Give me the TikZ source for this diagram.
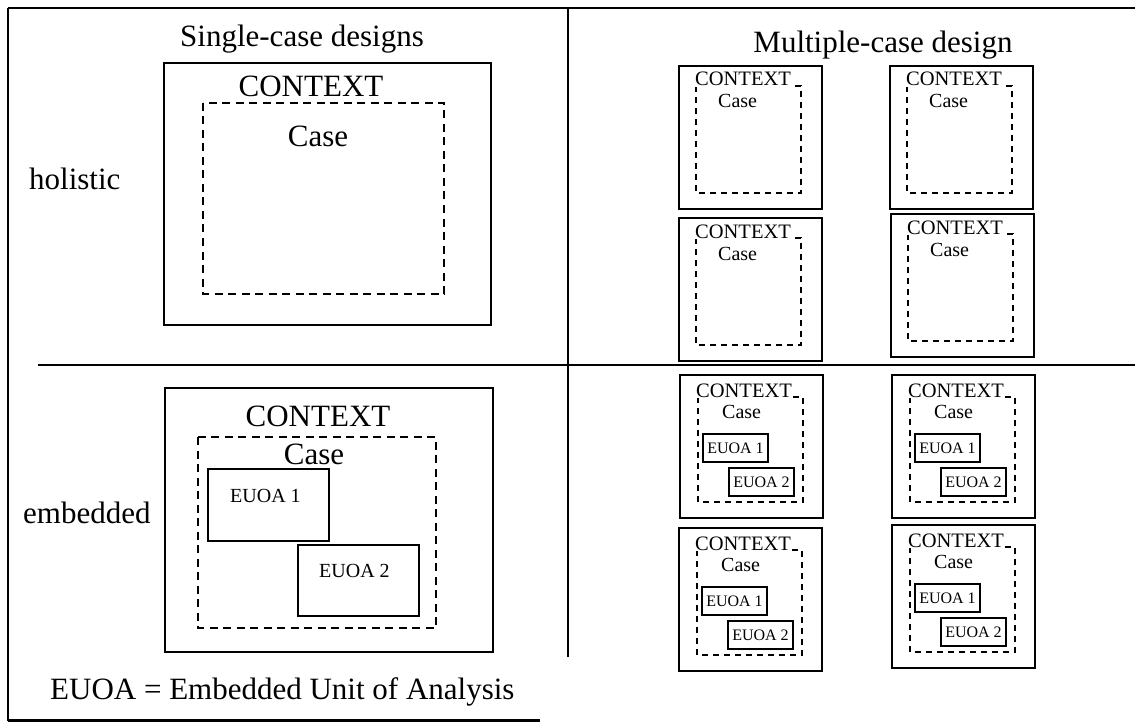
\documentclass[tikz,border=0pt]{standalone}
\usepackage{fontspec}
\setmainfont{Liberation Serif}
\tikzset{
  frameline/.style={line width=2.8pt},
  ctxbox/.style={draw, line width=2.8pt},
  casebig/.style={draw, line width=2.4pt, dash pattern=on 8pt off 5.5pt},
  casesmall/.style={draw, line width=2.4pt, dash pattern=on 6pt off 5pt},
  euoabox/.style={draw, line width=2.2pt},
  bigtext/.style={font=\fontsize{31}{36}\selectfont, inner sep=0pt},
  midtext/.style={font=\fontsize{20}{24}\selectfont, inner sep=0pt},
  smalltext/.style={font=\fontsize{16}{19}\selectfont, inner sep=0pt},
  covertext/.style={font=\fontsize{20.5}{24}\selectfont, inner sep=1pt, fill=white},
}
% holistic multiple-case box: #1 name, #2 x, #3 y (top-left)
\newcommand\MyHolBox[3]{%
  \draw[ctxbox] (#2,#3) rectangle ++(143,143);
  \draw[casesmall] (#2+17,#3+20) rectangle (#2+122,#3+127);
  \node[covertext, anchor=base west] (#1ctx) at (#2+15,#3+20) {CONTEXT};
  \node[midtext, anchor=base west] (#1case) at (#2+39,#3+42) {Case};
}
% embedded multiple-case box
\newcommand\MyEmbBox[3]{%
  \draw[ctxbox] (#2,#3) rectangle ++(143,143);
  \draw[casesmall] (#2+18,#3+22) rectangle (#2+123,#3+127);
  \node[covertext, anchor=base west] (#1ctx) at (#2+15,#3+22) {CONTEXT};
  \node[midtext, anchor=base west] (#1case) at (#2+42,#3+43) {Case};
  \draw[euoabox] (#2+23,#3+59) rectangle (#2+88,#3+87);
  \node[smalltext] (#1eA) at (#2+55.5,#3+73) {EUOA 1};
  \draw[euoabox] (#2+49,#3+93) rectangle (#2+114,#3+121);
  \node[smalltext] (#1eB) at (#2+81.5,#3+107) {EUOA 2};
}
\begin{document}
\begin{tikzpicture}[x=1pt,y=-1pt]
\useasboundingbox (0,0) rectangle (1135,722);
\fill[white] (0,0) rectangle (1135,722);
% frame lines
\draw[frameline] (8,8) -- (1135,8);
\draw[frameline] (8,8) -- (8,721);
\draw[frameline] (8,720.5) -- (540,720.5);
\draw[frameline] (568,8) -- (568,657);
\draw[frameline] (38,365) -- (1135,365);
% headers
\node[bigtext, anchor=base] (hsingle) at (302,47) {Single-case designs};
\node[bigtext, anchor=base] (hmulti) at (883,53) {Multiple-case design};
\node[bigtext, anchor=base west] (lhol) at (29,190) {holistic};
\node[bigtext, anchor=base west] (lemb) at (23,523) {embedded};
\node[bigtext, anchor=base west] (legend) at (50,699) {EUOA = Embedded Unit of Analysis};
% single holistic
\draw[ctxbox] (164,63) rectangle (491,325);
\node[bigtext, anchor=base] (shctx) at (311,97) {CONTEXT};
\draw[casebig] (203,103) rectangle (444,294);
\node[bigtext, anchor=base] (shcase) at (318,147) {Case};
% single embedded
\draw[ctxbox] (165,388) rectangle (493,652);
\node[bigtext, anchor=base] (sectx) at (318,426) {CONTEXT};
\draw[casebig] (198,437) rectangle (436,628);
\node[bigtext, anchor=base] (secase) at (314,464) {Case};
\draw[euoabox] (208,469) rectangle (329,541);
\node[midtext, anchor=base west] (seA) at (230,502) {EUOA 1};
\draw[euoabox] (298,545) rectangle (419,616);
\node[midtext, anchor=base west] (seB) at (319,577) {EUOA 2};
% multiple holistic
\MyHolBox{ha}{679}{66}
\MyHolBox{hb}{890}{66}
\MyHolBox{hc}{679}{218}
\MyHolBox{hd}{891}{214}
% multiple embedded
\MyEmbBox{ea}{680}{375}
\MyEmbBox{eb}{892}{375}
\MyEmbBox{ec}{679}{528}
\MyEmbBox{ed}{892}{525}
\end{tikzpicture}
\end{document}
